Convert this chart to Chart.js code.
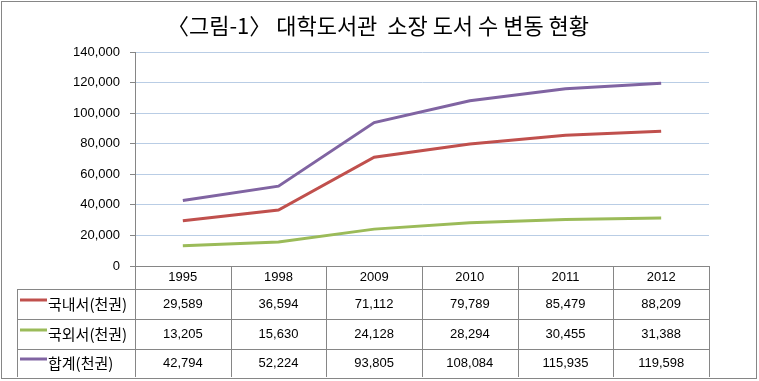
<!DOCTYPE html>
<html>
<head>
<meta charset="utf-8">
<script src="https://cdn.jsdelivr.net/npm/chart.js@4/dist/chart.umd.min.js"></script>
<style>
html,body{margin:0;padding:0;background:#fff;}
#wrap{width:759px;height:381px;}
</style>
</head>
<body>
<div id="wrap"><canvas id="c" width="759" height="381"></canvas></div>
<script>
const years = ['1995', '1998', '2009', '2010', '2011', '2012'];
const domestic = [29589, 36594, 71112, 79789, 85479, 88209];
const foreign = [13205, 15630, 24128, 28294, 30455, 31388];
const total = [42794, 52224, 93805, 108084, 115935, 119598];
const seriesNames = ['국내서(천권)', '국외서(천권)', '합계(천권)'];
const seriesColors = ['#C0504D', '#9BBB59', '#8064A2'];
const yMin = 0, yMax = 140000, yStep = 20000;
const titleText = '〈그림-1〉 대학도서관  소장 도서 수 변동 현황';

const fmt = v => Number(v).toLocaleString('en-US');
const NUM_FONT = '13px "Liberation Sans", Arial, sans-serif';
const KR_FONT = '15px "Noto Sans CJK KR", sans-serif';
const TITLE_FONT = '22px "Noto Sans CJK KR", sans-serif';
const GRAY = '#868686';

const tablePlugin = {
  id: 'dataTable',
  beforeDraw(chart) {
    const ctx = chart.ctx;
    ctx.save();
    ctx.fillStyle = '#fff';
    ctx.fillRect(0, 0, chart.width, chart.height);
    ctx.strokeStyle = GRAY;
    ctx.lineWidth = 1;
    ctx.strokeRect(1.5, 1.5, chart.width - 4, chart.height - 4);
    // title
    ctx.fillStyle = '#000';
    ctx.font = TITLE_FONT;
    ctx.textAlign = 'center';
    ctx.textBaseline = 'middle';
    ctx.fillText(titleText, 378, 26);
    ctx.restore();
  },
  afterDraw(chart) {
    const ctx = chart.ctx;
    const area = chart.chartArea;
    const xs = chart.scales.x;
    const n = years.length;
    const cw = (area.right - area.left) / n;
    const top = area.bottom;
    const headerB = top + 23;
    const rowH = 30;
    const rows = chart.data.datasets.length;
    const bottom = headerB + rowH * rows - 2;
    const leftX = 17;
    ctx.save();
    ctx.strokeStyle = GRAY;
    ctx.lineWidth = 1;
    ctx.beginPath();
    ctx.moveTo(area.left, top + 0.5); ctx.lineTo(area.right, top + 0.5);
    for (let r = 0; r < rows; r++) {
      const y = Math.round(headerB + rowH * r) + 0.5;
      ctx.moveTo(leftX, y); ctx.lineTo(area.right, y);
    }
    for (let i = 0; i <= n; i++) {
      const x = Math.round(area.left + cw * i) + 0.5;
      ctx.moveTo(x, top); ctx.lineTo(x, bottom);
    }
    ctx.moveTo(leftX + 0.5, headerB); ctx.lineTo(leftX + 0.5, bottom);
    ctx.stroke();

    ctx.fillStyle = '#000';
    ctx.textAlign = 'center';
    ctx.textBaseline = 'middle';
    ctx.font = NUM_FONT;
    years.forEach((y, i) => {
      ctx.fillText(y, xs.getPixelForValue(i), (top + headerB) / 2);
    });
    chart.data.datasets.forEach((ds, r) => {
      const yc = headerB + rowH * r + rowH / 2 - (r === rows - 1 ? 1 : 0);
      ctx.font = NUM_FONT;
      ctx.textAlign = 'center';
      ctx.fillStyle = '#000';
      ds.data.forEach((v, i) => {
        ctx.fillText(fmt(v), xs.getPixelForValue(i), yc);
      });
      ctx.strokeStyle = ds.borderColor;
      ctx.lineWidth = 3;
      ctx.beginPath();
      ctx.moveTo(20, yc - 4); ctx.lineTo(47, yc - 4);
      ctx.stroke();
      ctx.font = KR_FONT;
      ctx.textAlign = 'left';
      ctx.fillText(ds.label, 48, yc);
    });
    ctx.restore();
  }
};

new Chart(document.getElementById('c'), {
  type: 'line',
  data: {
    labels: years,
    datasets: [
      { label: seriesNames[0], data: domestic, borderColor: seriesColors[0] },
      { label: seriesNames[1], data: foreign, borderColor: seriesColors[1] },
      { label: seriesNames[2], data: total, borderColor: seriesColors[2] }
    ].map(d => Object.assign(d, { borderWidth: 3, pointRadius: 0, tension: 0, fill: false }))
  },
  options: {
    responsive: false,
    animation: false,
    devicePixelRatio: 1,
    layout: { padding: { left: 0, right: 50, bottom: 115, top: 52 } },
    plugins: {
      legend: { display: false },
      tooltip: { enabled: false },
      title: { display: false }
    },
    scales: {
      x: { type: 'category', offset: true, display: false },
      y: {
        min: yMin, max: yMax,
        afterFit(scale) { scale.width = 135; },
        ticks: { stepSize: yStep, callback: v => fmt(v), color: '#000', font: { family: '"Liberation Sans", Arial, sans-serif', size: 13 }, padding: 10 },
        grid: { color: '#B9CDE5', tickColor: GRAY, tickLength: 5, lineWidth: 1 },
        border: { color: GRAY }
      }
    }
  },
  plugins: [tablePlugin]
});
</script>
</body>
</html>
